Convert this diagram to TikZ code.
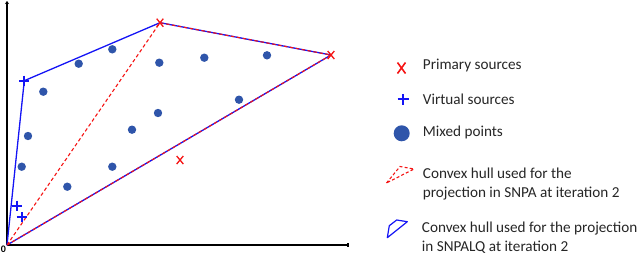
\documentclass[tikz,border=0pt]{standalone}
\usepackage{fontspec}
\setmainfont{Carlito}
\usetikzlibrary{arrows.meta}
\definecolor{dotblue}{RGB}{47,85,170}
\definecolor{hullblue}{RGB}{20,20,245}
\definecolor{xred}{RGB}{245,20,20}
\tikzset{
  mixdot/.style={circle,fill=dotblue,draw=none,inner sep=0pt,minimum size=8.4pt},
  bluehull/.style={draw=hullblue,line width=1.3pt,line join=round},
  redhull/.style={draw=xred,line width=1.1pt,dash pattern=on 3.5pt off 2.5pt},
  axis/.style={draw=black,line width=1.4pt},
  legtext/.style={anchor=west,font=\fontsize{15.2}{19}\selectfont,align=left,inner sep=0pt,text=black!85},
  xmark/.pic={\draw[xred,line width=1.3pt] (-3.3,-4)--(3.3,4) (-3.3,4)--(3.3,-4);},
  pmark/.pic={\draw[hullblue,line width=2pt] (-5,0)--(5,0) (0,-5)--(0,5);},
}
\begin{document}
\begin{tikzpicture}[x=1pt,y=-1pt]
\useasboundingbox (0,0) rectangle (640,255);
% axes
\coordinate (O) at (7,245);
\coordinate (ytop) at (7,1);
\coordinate (xend) at (348,245);
\draw[axis,-{Stealth[length=3pt,width=4pt]}] (O) -- (ytop);
\draw[axis] (O) -- (xend);
\draw[black,line width=1.4pt] (xend) ++(0,-2) -- ++(0,4);
\node[font=\bfseries\fontsize{10}{10}\selectfont,inner sep=0pt] (zero) at (3.3,249.3) {0};
% points
\coordinate (P1) at (160,22.7);
\coordinate (P2) at (331,55);
\coordinate (P3) at (180,160);
\coordinate (V1) at (24.3,80.7);
\coordinate (V2) at (17,205.7);
\coordinate (V3) at (21.7,217.3);
% hulls
\draw[bluehull] (O) -- (V1) -- (P1) -- (P2) -- cycle;
\draw[redhull] (O) -- (P1) -- (P2) -- cycle;
% mixed points
\foreach \p in {(112.3,49.3),(78.7,63.7),(159.3,62.7),(204.3,57.7),(267,55.3),(43.3,91.7),(239,99.7),(158,113),(132,129.7),(28,136),(21.7,166.7),(112.3,166.7),(67.3,186.7)}
  \node[mixdot] at \p {};
% markers
\pic at (P1) {xmark};
\pic at (P2) {xmark};
\pic at (P3) {xmark};
\pic at (V1) {pmark};
\pic at (V2) {pmark};
\pic at (V3) {pmark};
% legend
\draw[xred,line width=1.6pt] (397.5,62.5)--(405.5,73.5) (397.5,73.5)--(405.5,62.5);
\node[legtext] (l1) at (422.7,65) {Primary sources};
\draw[draw=hullblue,line width=2pt] (397.5,99.3)--(409,99.3) (403.3,93.8)--(403.3,104.8);
\node[legtext] (l2) at (422.7,99) {Virtual sources};
\node[mixdot,minimum size=16pt] (ld) at (401.7,133.3) {};
\node[legtext] (l3) at (422.7,132.7) {Mixed points};
\draw[redhull,line width=1.1pt,dash pattern=on 3pt off 2.2pt] (386.5,183) -- (400,166.5) -- (414,169) -- cycle;
\node[legtext] (l4) at (422.7,184.5) {Convex hull used for the\\projection in SNPA at iteration 2};
\draw[bluehull,line width=1.2pt] (387.3,237.7) -- (389.3,225.7) -- (396.7,220) -- (407.3,221.7) -- cycle;
\node[legtext] (l5) at (421.7,237.5) {Convex hull used for the projection\\in SNPALQ at iteration 2};
\end{tikzpicture}
\end{document}
